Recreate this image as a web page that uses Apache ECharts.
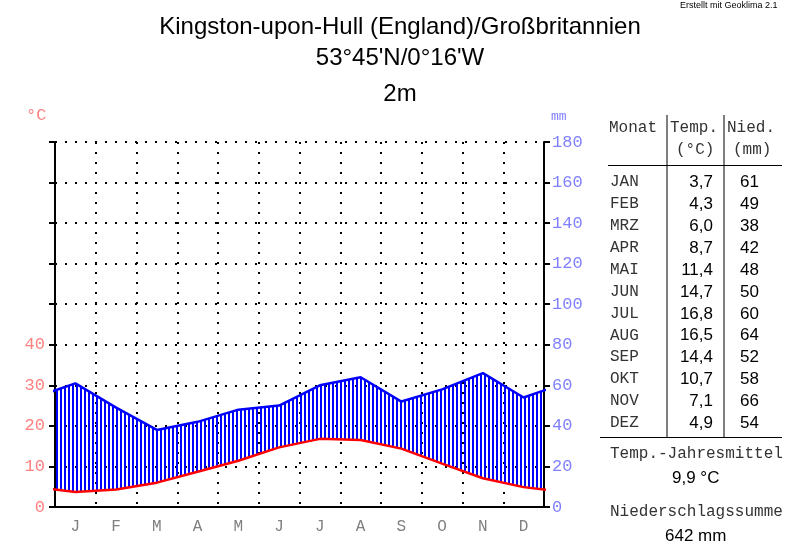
<!DOCTYPE html>
<html>
<head>
<meta charset="utf-8">
<script src="https://cdn.jsdelivr.net/npm/echarts@6/dist/echarts.min.js"></script>
<style>
  html, body { margin: 0; padding: 0; background: #fff; }
  #chart { width: 800px; height: 557px; }
</style>
</head>
<body>
<div id="chart"></div>
<script>
// Monatsdaten (Kingston-upon-Hull)
const monthLetters = ["J", "F", "M", "A", "M", "J", "J", "A", "S", "O", "N", "D"];
const monthAbbr = ["JAN", "FEB", "MRZ", "APR", "MAI", "JUN", "JUL", "AUG", "SEP", "OKT", "NOV", "DEZ"];
const temp = [3.7, 4.3, 6.0, 8.7, 11.4, 14.7, 16.8, 16.5, 14.4, 10.7, 7.1, 4.9];
const precip = [61, 49, 38, 42, 48, 50, 60, 64, 52, 58, 66, 54];
const tempTicks = [0, 10, 20, 30, 40];

const chart = echarts.init(document.getElementById("chart"));

// Punkte in Monatsmitte, Dez/Jan zyklisch an den Rändern wiederholt (werden abgeschnitten)
function cyclic(arr, fn) {
  const out = [[-0.5, fn(arr[11])]];
  arr.forEach((v, i) => out.push([i + 0.5, fn(v)]));
  out.push([12.5, fn(arr[0])]);
  return out;
}
const precipPts = cyclic(precip, v => v);
const tempPts = cyclic(temp, v => v);
const tempOnMm = cyclic(temp, v => v * 2); // 10 °C = 20 mm

// Schraffur: senkrechte blaue Linien
const hatch = document.createElement("canvas");
hatch.width = 4;
hatch.height = 4;
const hctx = hatch.getContext("2d");
hctx.fillStyle = "#0000ff";
hctx.fillRect(0, 0, 2, 4);

const mono = "Liberation Mono";
const sans = "Liberation Sans";

// Tabelle rechts
const tableEls = [];
const rowY0 = 183, rowStep = 21.9;
monthAbbr.forEach((m, i) => {
  const y = rowY0 + i * rowStep;
  tableEls.push({ type: "text", left: 610, top: y - 9, style: { text: m, font: "16px " + mono, fill: "#333" } });
  tableEls.push({ type: "text", right: 800 - 713, top: y - 9, style: { text: temp[i].toFixed(1).replace(".", ","), font: "17px " + sans, fill: "#000", textAlign: "right" } });
  tableEls.push({ type: "text", left: 740, top: y - 9, style: { text: String(precip[i]), font: "17px " + sans, fill: "#000" } });
});
const meanT = temp.reduce((a, b) => a + b, 0) / temp.length;
const sumP = precip.reduce((a, b) => a + b, 0);

const graphics = [
  { type: "text", left: "center", top: 15, style: { text: "Kingston-upon-Hull (England)/Großbritannien", font: "24px " + sans, fill: "#000" } },
  { type: "text", left: "center", top: 46, style: { text: "53°45'N/0°16'W", font: "24px " + sans, fill: "#000" } },
  { type: "text", left: "center", top: 82, style: { text: "2m", font: "24px " + sans, fill: "#000" } },
  { type: "text", left: 680, top: 1, style: { text: "Erstellt mit Geoklima 2.1", font: "9px " + sans, fill: "#000" } },
  { type: "text", left: 26, top: 107, style: { text: "°C", font: "17px " + mono, fill: "#ff8080" } },
  { type: "text", left: 551, top: 110, style: { text: "mm", font: "13px " + mono, fill: "#8080ff" } },
  { type: "text", left: 609, top: 120, style: { text: "Monat", font: "16px " + mono, fill: "#333" } },
  { type: "text", left: 670, top: 120, style: { text: "Temp.", font: "16px " + mono, fill: "#333" } },
  { type: "text", left: 676, top: 142, style: { text: "(°C)", font: "16px " + mono, fill: "#333" } },
  { type: "text", left: 727, top: 120, style: { text: "Nied.", font: "16px " + mono, fill: "#333" } },
  { type: "text", left: 733, top: 142, style: { text: "(mm)", font: "16px " + mono, fill: "#333" } },
  { type: "line", shape: { x1: 667, y1: 115, x2: 667, y2: 437 }, style: { stroke: "#000", lineWidth: 1 } },
  { type: "line", shape: { x1: 724, y1: 115, x2: 724, y2: 437 }, style: { stroke: "#000", lineWidth: 1 } },
  { type: "line", shape: { x1: 608, y1: 165.5, x2: 782, y2: 165.5 }, style: { stroke: "#000", lineWidth: 1 } },
  { type: "line", shape: { x1: 600, y1: 437.5, x2: 782, y2: 437.5 }, style: { stroke: "#000", lineWidth: 1 } },
  { type: "text", left: 610, top: 446, style: { text: "Temp.-Jahresmittel", font: "16px " + mono, fill: "#333" } },
  { type: "text", left: 672, top: 470, style: { text: meanT.toFixed(1).replace(".", ",") + " °C", font: "17px " + sans, fill: "#000" } },
  { type: "text", left: 610, top: 504, style: { text: "Niederschlagssumme", font: "16px " + mono, fill: "#333" } },
  { type: "text", left: 665, top: 528, style: { text: sumP + " mm", font: "17px " + sans, fill: "#000" } }
].concat(tableEls);

const option = {
  animation: false,
  backgroundColor: "#fff",
  grid: { left: 55, right: 256, top: 142, bottom: 50 },
  xAxis: [
    {
      type: "category",
      data: monthLetters,
      boundaryGap: true,
      axisLine: { lineStyle: { color: "#000", width: 2 } },
      axisTick: { length: 9, lineStyle: { color: "#000", width: 2 } },
      axisLabel: { color: "#808080", fontFamily: mono, fontSize: 16, margin: 12 },
      splitLine: { show: true, lineStyle: { color: "#000", width: 2, type: [2, 8] } }
    },
    { type: "value", min: 0, max: 12, show: false }
  ],
  yAxis: [
    {
      type: "value",
      min: 0,
      max: 90,
      interval: 10,
      position: "left",
      axisLine: { show: true, onZero: false, lineStyle: { color: "#000", width: 2 } },
      axisTick: { show: true, length: 6, lineStyle: { color: "#000", width: 2 } },
      axisLabel: {
        color: "#ff8080", fontFamily: mono, fontSize: 17, margin: 10,
        formatter: v => (tempTicks.indexOf(v) >= 0 ? String(v) : "")
      },
      splitLine: { show: false }
    },
    {
      type: "value",
      min: 0,
      max: 180,
      interval: 20,
      position: "right",
      axisLine: { show: true, onZero: false, lineStyle: { color: "#000", width: 2 } },
      axisTick: { show: true, length: 6, lineStyle: { color: "#000", width: 2 } },
      axisLabel: { color: "#8080ff", fontFamily: mono, fontSize: 17, margin: 8 },
      splitLine: { show: true, lineStyle: { color: "#000", width: 2, type: [2, 8] } }
    }
  ],
  series: [
    {
      // humide Zeit: Fläche zwischen Niederschlag und Temperatur, senkrecht schraffiert
      name: "humid",
      type: "custom",
      xAxisIndex: 1,
      yAxisIndex: 1,
      clip: true,
      silent: true,
      data: [[0, 0]],
      renderItem: (params, api) => {
        const upper = precipPts.map(p => api.coord(p));
        const lower = tempOnMm.map(p => api.coord(p)).reverse();
        return {
          type: "polygon",
          shape: { points: upper.concat(lower) },
          style: { fill: { image: hatch, repeat: "repeat" } }
        };
      }
    },
    {
      name: "Niederschlag",
      type: "line",
      xAxisIndex: 1,
      yAxisIndex: 1,
      symbol: "none",
      lineStyle: { color: "#0000ff", width: 2.5 },
      data: precipPts
    },
    {
      name: "Temperatur",
      type: "line",
      xAxisIndex: 1,
      yAxisIndex: 0,
      symbol: "none",
      lineStyle: { color: "#ff0000", width: 2.5 },
      data: tempPts
    }
  ],
  graphic: graphics
};
chart.setOption(option);
</script>
</body>
</html>
